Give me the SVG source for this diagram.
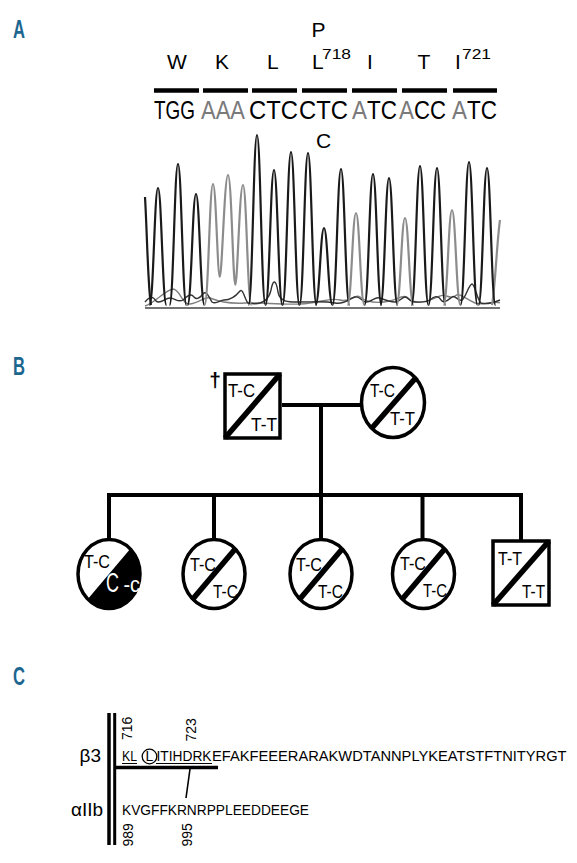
<svg xmlns="http://www.w3.org/2000/svg" width="577" height="863" viewBox="0 0 577 863">
<style>
text{font-family:'Liberation Sans',Arial,sans-serif;fill:#000}
.lbl{font-weight:bold;font-size:25px;fill:#1d6690}
.aa{font-size:21px}
.sup{font-size:14px}
.cod{font-size:25px}
.gr{fill:#7a7a7a}
.gt{font-size:18px}
.seq{font-size:14px}
.side{font-size:19px}
.bar{stroke:#000;stroke-width:4.5}
.pk{fill:none;stroke:#1a1a1a;stroke-width:2.2;stroke-linejoin:round}
.pg{fill:none;stroke:#8c8c8c;stroke-width:2.2;stroke-linejoin:round}
.ns{fill:none;stroke:#333;stroke-width:1.4}
.ns2{fill:none;stroke:#808080;stroke-width:1.4}
.shape{fill:#fff;stroke:#000;stroke-width:3.5}
.diag{stroke:#000;stroke-width:5.5}
.con{fill:none;stroke:#000;stroke-width:4}
</style>
<defs>
<clipPath id="clip-c1"><ellipse cx="109" cy="574" rx="31" ry="34.5"/></clipPath>
</defs>

<!-- Panel A -->
<g id="panelA">
<text class="lbl" x="13" y="38" textLength="12" lengthAdjust="spacingAndGlyphs">A</text>
<text class="aa" x="318.5" y="37" text-anchor="middle" font-size="20">P</text>
<text class="aa" x="177" y="69" text-anchor="middle">W</text>
<text class="aa" x="222" y="69" text-anchor="middle">K</text>
<text class="aa" x="267" y="69">L</text>
<text class="aa" x="312" y="69">L</text>
<text class="sup" x="322" y="59" textLength="29" lengthAdjust="spacingAndGlyphs">718</text>
<text class="aa" x="367" y="69">I</text>
<text class="aa" x="424" y="69" text-anchor="middle">T</text>
<text class="aa" x="455" y="69">I</text>
<text class="sup" x="462" y="59" textLength="29" lengthAdjust="spacingAndGlyphs">721</text>
<g id="bars">
<line class="bar" x1="154" y1="90.5" x2="199" y2="90.5"/>
<line class="bar" x1="203" y1="90.5" x2="248" y2="90.5"/>
<line class="bar" x1="252" y1="90.5" x2="297" y2="90.5"/>
<line class="bar" x1="302" y1="90.5" x2="347" y2="90.5"/>
<line class="bar" x1="352" y1="90.5" x2="397" y2="90.5"/>
<line class="bar" x1="402" y1="90.5" x2="447" y2="90.5"/>
<line class="bar" x1="453" y1="90.5" x2="497" y2="90.5"/>
</g>
<text class="cod" x="154" y="119" textLength="41" lengthAdjust="spacingAndGlyphs">TGG</text>
<text class="cod gr" x="201" y="119" textLength="44" lengthAdjust="spacingAndGlyphs">AAA</text>
<text class="cod" x="249" y="119" textLength="49" lengthAdjust="spacingAndGlyphs">CTC</text>
<text class="cod" x="299" y="119" textLength="49" lengthAdjust="spacingAndGlyphs">CTC</text>
<text class="cod gr" x="352" y="119" textLength="15" lengthAdjust="spacingAndGlyphs">A</text>
<text class="cod" x="367" y="119" textLength="30" lengthAdjust="spacingAndGlyphs">TC</text>
<text class="cod gr" x="399" y="119" textLength="15" lengthAdjust="spacingAndGlyphs">A</text>
<text class="cod" x="414" y="119" textLength="32" lengthAdjust="spacingAndGlyphs">CC</text>
<text class="cod gr" x="452" y="119" textLength="15" lengthAdjust="spacingAndGlyphs">A</text>
<text class="cod" x="467" y="119" textLength="30" lengthAdjust="spacingAndGlyphs">TC</text>
<text class="aa" x="323.5" y="148" text-anchor="middle" font-size="22">C</text>

<g id="chromatogram">
<path class="ns2" d="M145,306 C155,303 165,290 173,289 C180,289 182,305 190,304 C200,303 205,296 210,298 C220,302 230,304 245,303 C260,302 280,305 300,304 C320,303 330,297 340,300 C350,303 355,293 360,297 C365,301 375,304 390,301 C400,298 405,293 410,300 C420,305 430,300 440,296 C445,293 450,300 455,296 C460,292 465,299 475,303 C485,306 495,300 500,303"/>
<path class="ns" d="M145,302 C150,296 153,296 156,301 C160,305 165,298 170,298 C175,298 178,303 183,300 C186,297 190,293 193,296 C196,300 199,299 203,294 C206,290 209,297 212,302 C216,305 220,300 224,300 C230,300 236,296 240,291 C243,288 245,300 248,303 C258,305 268,303 271,290 C273,279 276,279 278,292 C280,303 290,302 300,302 C315,302 325,301 335,303 C345,305 350,298 355,297 C360,296 362,302 366,302 C372,302 375,296 380,298 C385,300 390,302 395,302 C400,302 402,297 405,297 C408,297 410,302 414,302 C420,302 425,303 430,300 C434,296 438,295 441,300 C444,304 448,300 452,297 C455,294 458,302 462,300 C466,297 469,284 472,284 C475,284 477,300 481,303 C488,305 495,302 500,300"/>
<path class="pk" d="M145,197 C147,230 148,290 151,305"/>
<path class="pg" d="M492,305 C495,290 497,240 500,220"/>
<path class="pk" d="M149.5,305 C153.5,305 154.5,188 158,188 C161.5,188 162.5,305 166.5,305"/>
<path class="pk" d="M169.5,305 C173.5,305 174.5,164 178,164 C181.5,164 182.5,305 186.5,305"/>
<path class="pk" d="M187.5,305 C191.5,305 192.5,194 196,194 C199.5,194 200.5,305 204.5,305"/>
<path class="pg" d="M204.5,305 C208.5,305 209.5,184 213,184 C216,184 217.5,277 219.8,277 C222,277 224.5,175 228,175 C231.5,175 233,285 235.3,285 C237.5,285 239.5,185 243,185 C246.5,185 247.5,305 251.5,305"/>
<path class="pk" d="M248.5,305 C252.5,305 253.5,135 257,135 C260.5,135 261.5,305 265.5,305"/>
<path class="pk" d="M265.5,305 C269.5,305 270.5,170 274,170 C277.5,170 278.5,305 282.5,305"/>
<path class="pk" d="M282.5,305 C286.5,305 287.5,152 291,152 C294.5,152 295.5,305 299.5,305"/>
<path class="pk" d="M299.5,305 C303.5,305 304.5,153 308,153 C311.5,153 312.5,305 316.5,305"/>
<path class="pk" d="M315.5,305 C319.5,305 320.5,228 324,228 C327.5,228 328.5,305 332.5,305"/>
<path class="pk" d="M332.5,305 C336.5,305 337.5,169 341,169 C344.5,169 345.5,305 349.5,305"/>
<path class="pg" d="M347.5,305 C351.5,305 352.5,213 356,213 C359.5,213 360.5,305 364.5,305"/>
<path class="pk" d="M364.5,305 C368.5,305 369.5,174 373,174 C376.5,174 377.5,305 381.5,305"/>
<path class="pk" d="M380.5,305 C384.5,305 385.5,178 389,178 C392.5,178 393.5,305 397.5,305"/>
<path class="pg" d="M396.5,305 C400.5,305 401.5,218 405,218 C408.5,218 409.5,305 413.5,305"/>
<path class="pk" d="M411.5,305 C415.5,305 416.5,166 420,166 C423.5,166 424.5,305 428.5,305"/>
<path class="pk" d="M428.5,305 C432.5,305 433.5,168 437,168 C440.5,168 441.5,305 445.5,305"/>
<path class="pg" d="M443.5,305 C447.5,305 448.5,210 452,210 C455.5,210 456.5,305 460.5,305"/>
<path class="pk" d="M460.5,305 C464.5,305 465.5,162 469,162 C472.5,162 473.5,305 477.5,305"/>
<path class="pk" d="M478.5,305 C482.5,305 483.5,168 487,168 C490.5,168 491.5,305 495.5,305"/>
<line x1="145" y1="308" x2="500" y2="308" stroke="#444" stroke-width="1.5"/>
</g>
</g>

<!-- Panel B -->
<text class="lbl" x="13" y="375" textLength="12" lengthAdjust="spacingAndGlyphs">B</text>

<g id="connectors">
<line class="con" x1="282" y1="405" x2="361" y2="405"/>
<line class="con" x1="321" y1="405" x2="321" y2="540"/>
<path class="con" d="M109,540 V495 H521 V541"/>
<line class="con" x1="214" y1="495" x2="214" y2="540"/>
<line class="con" x1="422.5" y1="495" x2="422.5" y2="540"/>
</g>

<g id="father">
<rect class="shape" x="225" y="374" width="55" height="64" stroke-width="4"/>
<line class="diag" x1="225" y1="438" x2="280" y2="374" stroke-width="5"/>
<text class="gt" x="228" y="397" textLength="27" lengthAdjust="spacingAndGlyphs">T-C</text>
<text class="gt" x="251" y="431" textLength="26" lengthAdjust="spacingAndGlyphs">T-T</text>
<text x="215" y="387" text-anchor="middle" font-size="21" font-weight="bold">†</text>
</g>

<g id="mother">
<ellipse class="shape" cx="393" cy="402.5" rx="31.5" ry="35"/>
<line class="diag" x1="371.5" y1="428.5" x2="416.5" y2="377"/>
<text class="gt" x="370" y="397" textLength="25" lengthAdjust="spacingAndGlyphs">T-C</text>
<text class="gt" x="390" y="425" textLength="25" lengthAdjust="spacingAndGlyphs">T-T</text>
</g>

<g id="child1">
<ellipse cx="109" cy="574" rx="31" ry="34.5" fill="#fff"/>
<polygon points="65,626 153,522 160,522 160,630 65,630" fill="#000" clip-path="url(#clip-c1)"/>
<ellipse cx="109" cy="574" rx="31" ry="34.5" fill="none" stroke="#000" stroke-width="3.5"/>
<text class="gt" x="84" y="568" textLength="26" lengthAdjust="spacingAndGlyphs">T-C</text>
<text x="106" y="592" font-size="27" style="fill:#fff" textLength="13" lengthAdjust="spacingAndGlyphs">C</text>
<text x="123.5" y="592" font-size="22" style="fill:#fff" textLength="16.5" lengthAdjust="spacingAndGlyphs">-c</text>
</g>

<g id="child2">
<ellipse class="shape" cx="214" cy="574" rx="31" ry="34.5"/>
<line class="diag" x1="192" y1="600" x2="236" y2="548"/>
<text class="gt" x="190" y="571" textLength="26" lengthAdjust="spacingAndGlyphs">T-C</text>
<text class="gt" x="213" y="598" textLength="25" lengthAdjust="spacingAndGlyphs">T-C</text>
</g>

<g id="child3">
<ellipse class="shape" cx="321" cy="574" rx="31" ry="34.5"/>
<line class="diag" x1="299" y1="600" x2="343" y2="548"/>
<text class="gt" x="296" y="571" textLength="26" lengthAdjust="spacingAndGlyphs">T-C</text>
<text class="gt" x="318" y="598" textLength="25" lengthAdjust="spacingAndGlyphs">T-C</text>
</g>

<g id="child4">
<ellipse class="shape" cx="423.5" cy="574" rx="31" ry="34.5"/>
<line class="diag" x1="401.5" y1="600" x2="445.5" y2="548"/>
<text class="gt" x="400" y="570" textLength="26" lengthAdjust="spacingAndGlyphs">T-C</text>
<text class="gt" x="423" y="597" textLength="24" lengthAdjust="spacingAndGlyphs">T-C</text>
</g>

<g id="child5">
<rect class="shape" x="493" y="541" width="56" height="64" stroke-width="4"/>
<line class="diag" x1="493" y1="605" x2="549" y2="541" stroke-width="5"/>
<text class="gt" x="498" y="565" textLength="24" lengthAdjust="spacingAndGlyphs">T-T</text>
<text class="gt" x="522" y="598" textLength="23" lengthAdjust="spacingAndGlyphs">T-T</text>
</g>

<!-- Panel C -->
<g id="panelC">
<text class="lbl" x="13" y="685" textLength="12" lengthAdjust="spacingAndGlyphs">C</text>
<line x1="109" y1="713" x2="109" y2="845" stroke="#000" stroke-width="3.5"/>
<line x1="114.7" y1="713" x2="114.7" y2="845" stroke="#000" stroke-width="3"/>
<text class="side" x="101" y="762" text-anchor="end">β3</text>
<text class="side" x="103" y="816" text-anchor="end">αIIb</text>
<text class="seq" x="122" y="761" textLength="15" lengthAdjust="spacingAndGlyphs">KL</text>
<text class="seq" x="145.5" y="761">L</text>
<circle cx="149.5" cy="756.5" r="7.3" fill="none" stroke="#000" stroke-width="1.3"/>
<text class="seq" x="156.5" y="761" textLength="55" lengthAdjust="spacingAndGlyphs">ITIHDRK</text>
<text class="seq" x="212" y="761" textLength="354.5" lengthAdjust="spacingAndGlyphs">EFAKFEEERARAKWDTANNPLYKEATSTFTNITYRGT</text>
<line x1="122" y1="763.5" x2="137" y2="763.5" stroke="#000" stroke-width="1"/>
<line x1="156" y1="763.5" x2="212" y2="763.5" stroke="#000" stroke-width="1"/>
<line x1="116" y1="767.5" x2="218" y2="767.5" stroke="#000" stroke-width="3.5"/>
<line x1="190" y1="769" x2="186" y2="798" stroke="#000" stroke-width="1.6"/>
<text class="seq" x="122" y="815" textLength="187" lengthAdjust="spacingAndGlyphs">KVGFFKRNRPPLEEDDEEGE</text>
<text class="seq" transform="translate(131.5,740) rotate(-90)">716</text>
<text class="seq" transform="translate(196,741.5) rotate(-90)">723</text>
<text class="seq" transform="translate(132.5,846.5) rotate(-90)">989</text>
<text class="seq" transform="translate(191.5,846.5) rotate(-90)">995</text>
</g>
</svg>
